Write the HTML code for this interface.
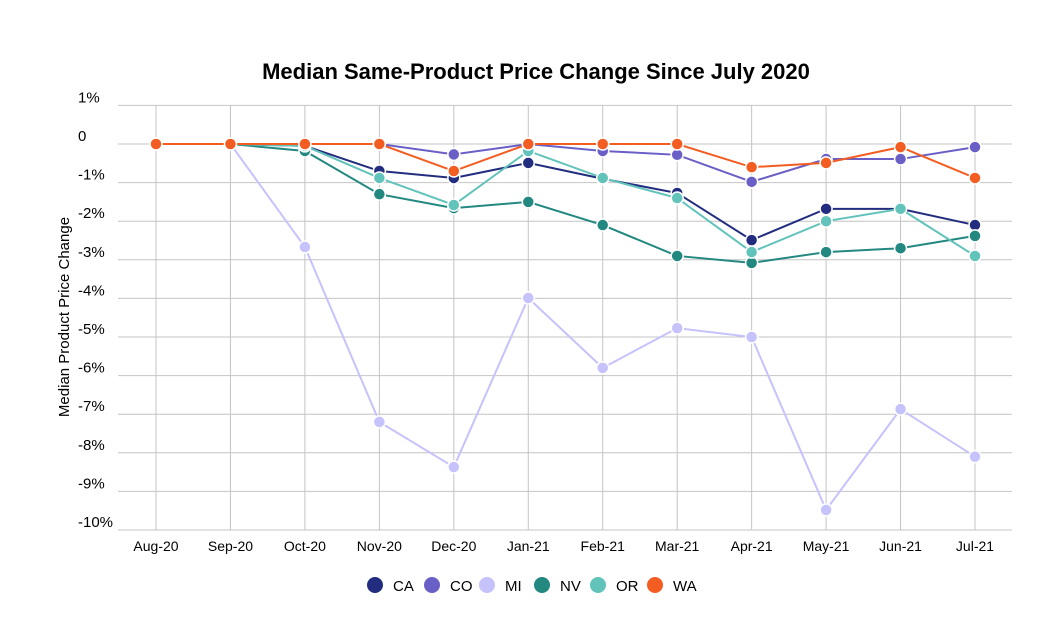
<!DOCTYPE html>
<html><head><meta charset="utf-8"><style>
body{margin:0;background:#fff;}
svg{display:block;font-family:"Liberation Sans",Arial,sans-serif;}
</style></head><body>
<svg id="chart" width="1063" height="644">
<text x="536" y="79" text-anchor="middle" font-size="22" font-weight="bold" fill="#000">Median Same-Product Price Change Since July 2020</text>
<text transform="translate(69,317) rotate(-90)" text-anchor="middle" font-size="15" fill="#000">Median Product Price Change</text>
<g id="grid"></g><g id="series"></g><g id="legend"></g>
</svg>
<script>
const categories=["Aug-20","Sep-20","Oct-20","Nov-20","Dec-20","Jan-21","Feb-21","Mar-21","Apr-21","May-21","Jun-21","Jul-21"];
const yTicks=[1,0,-1,-2,-3,-4,-5,-6,-7,-8,-9,-10];
const yTickLabels=["1%","0","-1%","-2%","-3%","-4%","-5%","-6%","-7%","-8%","-9%","-10%"];
const seriesNames=["CA","CO","MI","NV","OR","WA"];
const seriesColors=["#232d7f","#6a5fc6","#c5c2fc","#228880","#62c3bb","#f45d22"];
const CA=[0,0,-0.05,-0.7,-0.88,-0.49,-0.9,-1.27,-2.49,-1.68,-1.68,-2.1];
const CO=[0,0,0,0,-0.27,0,-0.18,-0.28,-0.98,-0.39,-0.39,-0.08];
const MI=[0,0,-2.67,-7.2,-8.37,-3.99,-5.8,-4.77,-5.0,-9.48,-6.87,-8.1];
const NV=[0,0,-0.18,-1.3,-1.66,-1.5,-2.1,-2.9,-3.08,-2.8,-2.7,-2.38];
const OR=[0,0,-0.05,-0.88,-1.58,-0.18,-0.88,-1.4,-2.8,-2.0,-1.68,-2.9];
const WA=[0,0,0,0,-0.7,0,0,0,-0.6,-0.49,-0.08,-0.88];
const seriesValues=[CA,CO,MI,NV,OR,WA];
const NS="http://www.w3.org/2000/svg";
const x=i=>156+i*(975-156)/(categories.length-1);
const y=v=>144-v*38.6;
function mk(tag,attrs,parent){const e=document.createElementNS(NS,tag);for(const k in attrs)e.setAttribute(k,attrs[k]);parent.appendChild(e);return e;}
const grid=document.getElementById('grid');
yTicks.forEach((t,i)=>{
  const l=mk('line',{x1:118,x2:1012,y1:y(t),y2:y(t),stroke:'#c4c4c4','stroke-width':1},grid);
  
  
  const tx=mk('text',{x:78,y:y(t)-3,'font-size':15,fill:'#000'},grid);
  tx.textContent=yTickLabels[i];
  
  
});
categories.forEach((c,i)=>{
  const l=mk('line',{x1:x(i),x2:x(i),y1:y(1),y2:y(-10),stroke:'#c4c4c4','stroke-width':1},grid);
  
  
  const tx=mk('text',{x:x(i),y:551,'font-size':14,'text-anchor':'middle',fill:'#000'},grid);
  tx.textContent=c;
  
  
});
const sg=document.getElementById('series');
seriesValues.forEach((vals,s)=>{
  const g=mk('g',{},sg);
  
  
  const pl=mk('polyline',{points:vals.map((v,i)=>x(i)+','+y(v)).join(' '),fill:'none',stroke:seriesColors[s],'stroke-width':2},g);
  
  
  vals.forEach((v,i)=>{
    const c=mk('circle',{cx:x(i),cy:y(v),r:6,fill:seriesColors[s],stroke:'#fff','stroke-width':1.5},g);
    
    
  });
});
const lg=document.getElementById('legend');
const lx=[375,432,487,542,598,655];
seriesNames.forEach((n,s)=>{
  const g=mk('g',{},lg);
  
  
  mk('circle',{cx:lx[s],cy:585,r:8,fill:seriesColors[s]},g);
  const t=mk('text',{x:lx[s]+18,y:591,'font-size':15,fill:'#000'},g);
  t.textContent=n;
});
</script>
</body></html>
